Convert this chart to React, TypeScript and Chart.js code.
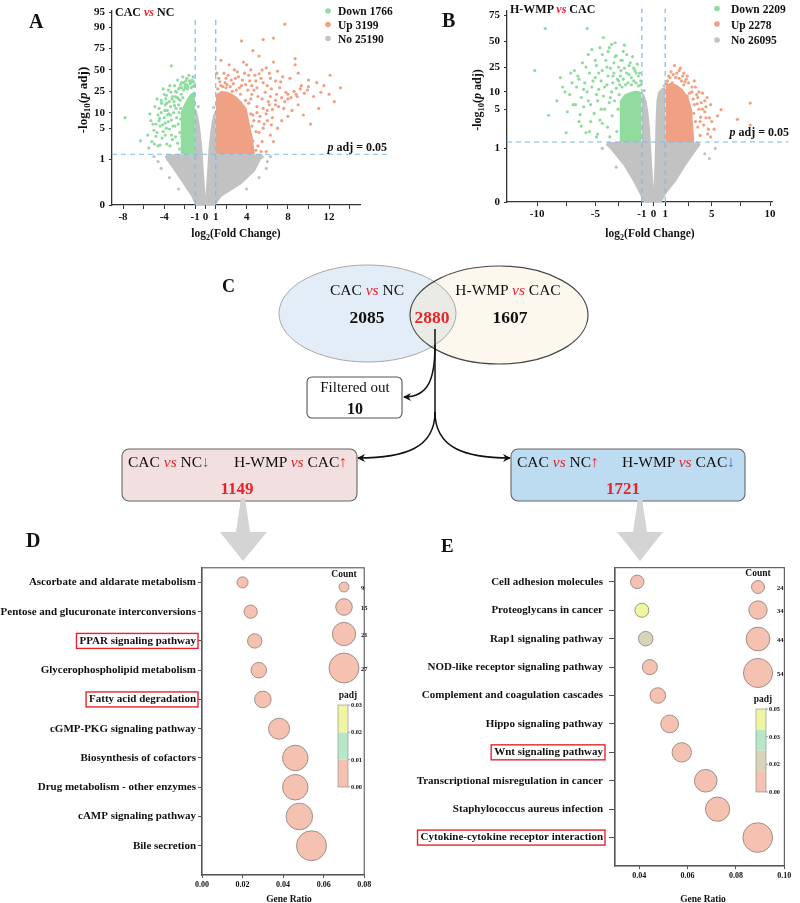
import React, { useEffect, useRef } from 'react';
import { Chart, registerables } from 'chart.js';

Chart.register(...registerables);

const SERIF = '"Liberation Serif", "Times New Roman", serif';
const RED = '#e8242a';
const BLUE_ARROW = '#3a6bd6';
const GREEN = '#8fdc9e';
const ORANGE = '#f0a083';
const GRAY = '#c2c2c2';
const DASH = '#7dbaea';
const SALMON = '#f5c1b0';
const MINT = '#b7e8c6';
const LEMON = '#eff5a0';
const KHAKI = '#d8d4b9';

type Pt = [number, number];

const PADJ_CUT = 0.05;
const FC_CUT = 1;

// ---------------- Panel A : CAC vs NC ----------------
const A_LEGEND = ['Down 1766', 'Up 3199', 'No 25190'];
const A_Y_TICKS = [0, 1, 5, 10, 25, 50, 75, 90, 95];
const A_Y_AXIS = [0, 47, 79, 95, 117, 139, 161, 183, 198];
const A_X_TICKS = [-8, -6, -4, -2, -1, 0, 1, 2, 4, 6, 8, 10, 12, 14];
const A_X_LABELED = [-8, -4, -1, 0, 1, 4, 8, 12];
const A_GRAY_UPPER: Pt[] = [[-3.95, 1.1], [-3.8, 1.3], [-1.02, 1.3], [-1.0, 12], [-0.9, 11.5], [-0.75, 9.5], [-0.6, 6.5], [-0.45, 3.8], [-0.3, 1.8], [-0.15, 0.7], [0, 0.2], [0.15, 0.7], [0.3, 1.8], [0.45, 3.8], [0.6, 6.5], [0.75, 9], [0.9, 10.5], [1.0, 11], [1.02, 1.3], [5.5, 1.3], [5.7, 1.1]];
const A_GRAY_LOWER: Pt[] = [[-3.95, 1.1], [-3.0, 0.74], [-2.17, 0.46], [-1.36, 0.18], [-1.05, 0.03], [-0.9, 0], [0.9, 0], [1.06, 0.03], [1.55, 0.18], [3.5, 0.46], [4.8, 0.74], [5.4, 1.0], [5.7, 1.1]];
const A_DOWN_CORE: Pt[] = [[-2.45, 1.3], [-2.4, 10], [-2.1, 14], [-1.8, 18], [-1.5, 22], [-1.2, 24], [-1.02, 25]];
const A_UP_CORE: Pt[] = [[1.02, 22], [1.5, 25], [2.0, 25], [2.5, 23], [3.0, 20], [3.5, 16], [4.0, 12], [4.3, 6], [4.6, 3], [4.8, 1.3]];
const A_DOWN_PTS: Pt[] = [[-7.8, 8], [-6.3, 2.6], [-5.3, 7], [-5.0, 4.5], [-4.9, 13], [-4.7, 18], [-4.6, 2], [-4.5, 7], [-4.4, 5.5], [-4.3, 10], [-4.2, 3], [-4.1, 27], [-4.0, 22], [-3.9, 14], [-3.8, 5], [-3.75, 2.2], [-3.7, 9], [-3.6, 26], [-3.5, 16], [-3.45, 30], [-3.4, 9], [-3.3, 3.5], [-3.2, 20], [-3.3, 54], [-3.0, 30], [-2.9, 25], [-2.8, 24], [-2.7, 36], [-2.6, 27], [-2.5, 28], [-2.4, 31], [-2.3, 33], [-2.2, 40], [-2.1, 26], [-2.0, 30], [-1.9, 35], [-1.8, 38], [-1.7, 29], [-1.6, 42], [-1.5, 32], [-1.4, 28], [-1.3, 36], [-1.2, 40], [-1.1, 30], [-3.9, 3.5], [-4.5, 12], [-5.2, 2.5], [-4.8, 6], [-3.85, 18], [-4.25, 15], [-4.4, 2.1], [-4.1, 4.2], [-3.9, 6.3], [-3.7, 11], [-3.5, 4.8], [-3.4, 13], [-3.3, 7.2], [-3.2, 2.8], [-3.1, 10], [-3.05, 16], [-2.95, 5.5], [-2.9, 3.2], [-2.85, 12], [-2.8, 8], [-2.75, 19], [-2.7, 2.3], [-2.65, 6], [-2.6, 14], [-2.55, 10], [-2.5, 4], [-2.45, 17], [-2.4, 7.5], [-2.35, 22], [-2.3, 3.3], [-4.8, 3.3], [-4.6, 9], [-4.3, 17], [-4.0, 8], [-3.8, 21], [-3.6, 6.7], [-3.45, 2], [-3.35, 24], [-3.15, 5.5], [-3.0, 13.5], [-2.9, 20], [-2.6, 18], [-2.5, 1.7], [-2.4, 12], [-2.3, 28], [-2.2, 19], [-2.1, 33], [-1.95, 28], [-1.85, 31], [-1.75, 27], [-1.55, 35], [-1.4, 33], [-1.25, 29], [-1.15, 34], [-5.6, 3.5], [-5.5, 1.8], [-5.4, 9.5], [-5.1, 6], [-4.95, 2.2], [-4.7, 4], [-4.45, 7.8], [-4.15, 5.8], [-3.95, 11], [-3.75, 15], [-3.55, 9.5], [-3.25, 18]];
const A_UP_PTS: Pt[] = [[7.7, 91], [6.6, 82], [5.6, 81], [3.5, 80], [4.6, 72], [5.2, 65], [8.7, 62], [8.7, 55], [4.0, 55], [5.5, 50], [6.2, 45], [7.0, 48], [7.5, 40], [12.1, 42], [10.8, 33], [13.1, 28], [12.0, 22], [9.9, 26], [9.3, 30], [8.8, 22], [10.5, 20], [11.2, 24], [8.0, 18], [7.2, 28], [6.8, 35], [6.0, 30], [5.4, 38], [4.8, 42], [4.3, 35], [3.8, 45], [3.2, 40], [2.8, 50], [2.5, 36], [2.2, 42], [1.9, 33], [1.5, 30], [1.3, 38], [3.5, 30], [4.5, 22], [5.0, 28], [5.5, 18], [6.3, 20], [7.6, 12], [8.4, 11], [9.5, 9], [10.2, 6], [7.4, 7], [6.5, 8], [6.0, 11], [5.7, 6], [5.2, 4], [4.9, 1.6], [5.5, 2.5], [6.3, 3.5], [4.6, 9], [5.0, 13], [4.2, 15], [3.9, 17], [6.8, 14], [9.0, 14], [11.0, 12], [12.5, 16], [5.9, 1.5], [6.6, 2.5], [7.0, 5], [8.0, 8.5], [3.0, 26], [2.0, 28], [1.6, 24], [4.1, 26], [3.4, 22], [2.6, 25], [4.4, 9.5], [4.7, 7], [5.0, 10], [5.3, 8.5], [5.6, 12], [5.9, 9.5], [6.2, 14], [6.5, 11.5], [6.8, 17], [7.1, 13], [7.4, 19], [7.7, 16], [8.0, 22], [8.3, 19], [8.6, 25], [8.9, 20], [9.2, 27], [9.6, 23], [10.0, 29], [4.5, 5.5], [4.9, 4.2], [5.2, 6.8], [5.6, 5], [6.0, 7], [6.4, 5.8], [4.2, 3.4], [4.6, 2.6], [5.1, 2], [5.4, 1.5], [6.1, 16], [6.9, 22], [7.8, 24], [4.4, 18], [4.7, 26], [5.1, 20], [5.8, 24], [6.4, 27], [1.2, 27], [1.4, 34], [1.7, 29], [1.8, 45], [2.1, 31], [2.3, 55], [2.4, 29], [2.7, 32], [2.9, 38], [3.1, 47], [3.3, 28], [3.6, 36], [3.7, 58], [3.9, 31], [4.2, 42], [4.4, 50], [4.5, 30], [4.9, 35], [5.2, 44], [5.6, 33], [5.9, 52], [6.3, 38], [6.6, 58], [7.3, 34], [8.2, 38], [9.0, 45], [10.0, 36], [11.5, 30], [1.1, 45], [1.5, 60], [2.0, 38]];
const A_NO_PTS: Pt[] = [[-4.6, 0.95], [-4.3, 0.8], [-5.0, 1.15], [-3.5, 0.6], [6.0, 0.95], [6.3, 1.15], [5.9, 0.8], [5.2, 0.6], [-0.7, 13], [0.8, 12.5], [4.0, 0.35], [-2.6, 0.35]];

// ---------------- Panel B : H-WMP vs CAC ----------------
const B_LEGEND = ['Down 2209', 'Up 2278', 'No 26095'];
const B_Y_TICKS = [0, 1, 5, 10, 25, 50, 75];
const B_Y_AXIS = [0, 56, 97, 115, 141, 168, 195];
const B_X_TICKS = [-10, -7.5, -5, -3, -1, 0, 1, 3, 5, 7.5, 10];
const B_X_LABELED = [-10, -5, -1, 0, 1, 5, 10];
const B_GRAY_UPPER: Pt[] = [[-4.1, 1.15], [-3.95, 1.3], [-1.02, 1.3], [-1.0, 10], [-0.8, 9], [-0.6, 7], [-0.45, 4.5], [-0.3, 2.2], [-0.15, 0.8], [0.0, 0.27], [0.1, 0.8], [0.17, 3], [0.25, 7], [0.4, 10], [0.7, 11.5], [1.0, 12], [1.02, 1.3], [3.9, 1.3], [4.05, 1.15]];
const B_GRAY_LOWER: Pt[] = [[-4.1, 1.15], [-3.76, 1.0], [-2.6, 0.69], [-1.77, 0.39], [-1.2, 0.155], [-0.97, 0.036], [-0.85, 0], [0.7, 0], [0.8, 0.036], [1.08, 0.155], [1.94, 0.39], [2.8, 0.69], [3.8, 1.0], [4.05, 1.15]];
const B_DOWN_CORE: Pt[] = [[-2.95, 1.3], [-2.9, 7], [-2.5, 9], [-2.0, 10], [-1.5, 10.5], [-1.02, 10]];
const B_UP_CORE: Pt[] = [[1.02, 13], [1.5, 14], [2.0, 13], [2.5, 11], [3.0, 8], [3.3, 5], [3.5, 1.3]];
const B_DOWN_PTS: Pt[] = [[-9.3, 61], [-5.7, 61], [-4.3, 53], [-10.2, 22], [-9.0, 3.9], [-7.5, 1.9], [-8.0, 17], [-7.8, 12], [-7.2, 9], [-7.0, 14], [-6.7, 6], [-6.5, 18], [-6.3, 4], [-6.0, 11], [-5.8, 25], [-5.6, 7], [-5.4, 3], [-5.2, 15], [-5.0, 30], [-4.9, 9], [-4.7, 20], [-4.5, 5], [-4.4, 35], [-4.2, 12], [-4.0, 25], [-3.8, 42], [-3.7, 8], [-3.5, 18], [-3.4, 28], [-3.2, 34], [-3.0, 15], [-2.8, 22], [-2.7, 30], [-2.5, 45], [-2.3, 20], [-2.1, 26], [-1.9, 17], [-1.7, 24], [-1.5, 20], [-1.3, 18], [-1.1, 15], [-5.5, 2], [-6.2, 2.5], [-4.8, 1.8], [-7.4, 4.5], [-8.3, 7], [-6.8, 22], [-5.3, 40], [-3.3, 48], [-2.6, 38], [-6.4, 3], [-6.2, 8], [-6.0, 5.5], [-5.9, 14], [-5.7, 10], [-5.5, 20], [-5.4, 6], [-5.3, 12], [-5.1, 4.2], [-5.0, 17], [-4.9, 26], [-4.8, 7], [-4.7, 11], [-4.6, 3.2], [-4.5, 15], [-4.4, 22], [-4.3, 8.5], [-4.2, 5], [-4.1, 30], [-4.0, 13], [-3.95, 2.4], [-3.9, 18], [-3.8, 6.5], [-3.7, 24], [-3.6, 10], [-3.55, 3.8], [-3.5, 14], [-3.4, 20], [-3.35, 7], [-3.3, 33], [-3.2, 11.5], [-3.15, 2], [-3.1, 16], [-3.05, 5], [-3.0, 25], [-2.95, 9], [-2.9, 13], [-2.85, 18], [-2.8, 30], [-2.7, 12], [-2.6, 16], [-2.5, 24], [-2.4, 13], [-2.3, 35], [-2.2, 14], [-2.1, 19], [-2.0, 28], [-1.9, 13], [-1.8, 33], [-1.7, 15], [-1.6, 22], [-1.5, 14], [-1.4, 27], [-1.3, 12.5], [-1.2, 20], [-1.1, 13], [-6.6, 12], [-6.9, 6], [-7.1, 20], [-7.6, 10], [-6.1, 28], [-5.6, 35], [-4.6, 42], [-3.9, 38], [-3.6, 46], [-4.9, 1.6], [-5.8, 1.9], [-4.4, 2.8], [-3.75, 1.6], [-6.4, 16]];
const B_UP_PTS: Pt[] = [[1.8, 26], [2.2, 22], [2.5, 18], [1.4, 17], [3.0, 14], [3.3, 10], [3.8, 8], [4.2, 5], [4.5, 3.5], [5.0, 3], [5.8, 4.9], [8.3, 6.4], [7.2, 3.3], [8.3, 2.6], [3.5, 6], [4.0, 3], [2.8, 16], [3.6, 12], [4.7, 2.2], [2.0, 20], [2.4, 15], [1.2, 15], [3.2, 4.5], [4.4, 7], [1.6, 14], [2.6, 13], [3.9, 10], [4.9, 1.6], [1.1, 13.5], [2.9, 8.5], [3.2, 2], [3.4, 7.5], [3.6, 3], [3.7, 9], [3.9, 5], [4.0, 1.7], [4.1, 6.5], [4.3, 2.6], [4.4, 4.5], [4.6, 8], [4.8, 3.5], [3.3, 12], [3.5, 15], [2.9, 18], [2.6, 20], [2.2, 16.5], [1.9, 17], [1.5, 21], [1.3, 18], [3.1, 9.5], [3.8, 2.4], [4.2, 9.5], [4.5, 5.5], [4.9, 6], [5.2, 2.2], [5.5, 3.8], [3.45, 4.2], [3.75, 6.2], [4.05, 3.6], [4.65, 1.8], [2.3, 24], [2.7, 14.5], [1.7, 19]];
const B_NO_PTS: Pt[] = [[4.8, 0.81], [5.3, 1.0], [-4.4, 1.0], [4.4, 0.9], [-3.2, 0.65], [0.9, 12.5], [-0.8, 10.5]];

// ---------------- Panel D ----------------
const D_PATHWAYS = ['Ascorbate and aldarate metabolism', 'Pentose and glucuronate interconversions', 'PPAR signaling pathway', 'Glycerophospholipid metabolism', 'Fatty acid degradation', 'cGMP-PKG signaling pathway', 'Biosynthesis of cofactors', 'Drug metabolism - other enzymes', 'cAMP signaling pathway', 'Bile secretion'];
const D_RATIO = [0.020, 0.024, 0.026, 0.028, 0.030, 0.038, 0.046, 0.046, 0.048, 0.054];
const D_COUNT = [10, 12, 13, 14, 15, 19, 23, 23, 24, 27];
const D_PADJ = [0.004, 0.003, 0.002, 0.002, 0.001, 0.001, 0.0005, 0.0008, 0.0006, 0.0002];
const D_HIGHLIGHT = ['PPAR signaling pathway', 'Fatty acid degradation'];
const D_COUNT_LEGEND = [9, 15, 21, 27];
const D_X_TICKS = [0, 0.02, 0.04, 0.06, 0.08];
const D_PADJ_BOUNDS = [0, 0.01, 0.02, 0.03];
const D_PADJ_COLORS = [SALMON, MINT, LEMON];
const D_BAR_TICKS = [0, 0.01, 0.02, 0.03];

// ---------------- Panel E ----------------
const E_PATHWAYS = ['Cell adhesion molecules', 'Proteoglycans in cancer', 'Rap1 signaling pathway', 'NOD-like receptor signaling pathway', 'Complement and coagulation cascades', 'Hippo signaling pathway', 'Wnt signaling pathway', 'Transcriptional misregulation in cancer', 'Staphylococcus aureus infection', 'Cytokine-cytokine receptor interaction'];
const E_RATIO = [0.0392, 0.0411, 0.0427, 0.0444, 0.0477, 0.0526, 0.0576, 0.0675, 0.0724, 0.089];
const E_COUNT = [25, 26, 27, 28, 29, 33, 36, 42, 45, 55];
const E_PADJ = [0.008, 0.045, 0.02, 0.006, 0.004, 0.003, 0.002, 0.001, 0.0005, 0.0001];
const E_HIGHLIGHT = ['Wnt signaling pathway', 'Cytokine-cytokine receptor interaction'];
const E_COUNT_LEGEND = [24, 34, 44, 54];
const E_X_TICKS = [0.04, 0.06, 0.08, 0.10];
const E_PADJ_BOUNDS = [0, 0.0125, 0.025, 0.0375, 0.05];
const E_PADJ_COLORS = [SALMON, KHAKI, MINT, LEMON];
const E_BAR_TICKS = [0, 0.05 / 3, 0.1 / 3, 0.05];

const D_K = 0.555;
const E_K = 0.27;

function colorFor(bounds: number[], colors: string[]) {
  return (p: number) => {
    for (let i = 0; i < colors.length; i++) if (p < bounds[i + 1]) return colors[i];
    return colors[colors.length - 1];
  };
}

function makeAxisMap(ticks: number[], pos: number[]) {
  const seg = (i: number, v: number) => {
    const a = ticks[i], b = ticks[i + 1];
    const t = a >= 1 ? (Math.log10(v) - Math.log10(a)) / (Math.log10(b) - Math.log10(a)) : (v - a) / (b - a);
    return pos[i] + t * (pos[i + 1] - pos[i]);
  };
  return (v: number) => {
    if (v <= ticks[0]) return pos[0];
    for (let i = 0; i < ticks.length - 1; i++) if (v <= ticks[i + 1]) return seg(i, v);
    return seg(ticks.length - 2, v);
  };
}

function volcanoConfig(v: any): any {
  const ym = makeAxisMap(v.yTicks, v.yPos);
  const thr = ym(-Math.log10(PADJ_CUT));
  const P = (pts: Pt[]) => pts.map(([x, y]) => ({ x, y: ym(y) }));
  const region = (pts: Pt[], color: string, fill: any, order: number) => ({
    type: 'line', data: P(pts), borderWidth: 0, borderColor: 'rgba(0,0,0,0)',
    backgroundColor: color, pointRadius: 0, fill, order, tension: 0,
  });
  const dots = (pts: Pt[], color: string, order: number) => ({
    type: 'scatter', data: P(pts), pointRadius: 1.6, pointBackgroundColor: color,
    backgroundColor: color, pointBorderWidth: 0, borderWidth: 0, order,
  });
  const dash = (data: any[]) => ({
    type: 'line', data, borderColor: DASH, borderWidth: 1.2, borderDash: [5, 4],
    pointRadius: 0, fill: false, clip: false, order: 0,
  });
  const font = { family: SERIF, weight: 'bold', size: 11 };
  return {
    type: 'scatter',
    data: {
      datasets: [
        region(v.grayUpper, GRAY, '+1', 9),
        region(v.grayLower, GRAY, false, 9),
        region(v.downCore, GREEN, { value: thr }, 7),
        region(v.upCore, ORANGE, { value: thr }, 7),
        dots(v.noPts, GRAY, 5),
        dots(v.downPts, GREEN, 4),
        dots(v.upPts, ORANGE, 4),
        dash([{ x: -FC_CUT, y: 0 }, { x: -FC_CUT, y: v.vTop }]),
        dash([{ x: FC_CUT, y: 0 }, { x: FC_CUT, y: v.vTop }]),
        dash([{ x: v.xMin, y: thr }, { x: v.hRight, y: thr }]),
      ],
    },
    options: {
      animation: false,
      responsive: false,
      layout: { padding: { top: v.padTop, right: v.padRight, left: 0, bottom: 0 } },
      plugins: { legend: { display: false }, tooltip: { enabled: false } },
      scales: {
        x: {
          type: 'linear', min: v.xMin, max: v.xMax,
          afterBuildTicks: (s: any) => { s.ticks = v.xTicks.map((t: number) => ({ value: t })); },
          afterFit: (s: any) => { s.height = 25; },
          ticks: { autoSkip: false, maxRotation: 0, padding: 2, color: '#111', font,
            callback: (val: number) => (v.xLabeled.includes(val) ? String(val) : '') },
          grid: { display: true, drawOnChartArea: false, drawTicks: true, tickLength: 4, color: '#333' },
          border: { display: true, color: '#333', width: 1.3 },
        },
        y: {
          type: 'linear', min: 0, max: 200,
          afterBuildTicks: (s: any) => { s.ticks = v.yTicks.map((t: number) => ({ value: ym(t) })); },
          afterFit: (s: any) => { s.width = 40; },
          ticks: { autoSkip: false, padding: 4, color: '#111', font,
            callback: (_val: number, i: number) => String(v.yTicks[i]) },
          grid: { display: true, drawOnChartArea: false, drawTicks: true, tickLength: 3, color: '#333' },
          border: { display: true, color: '#333', width: 1.3 },
        },
      },
    },
  };
}

function bubbleConfig(b: any): any {
  const font = { family: SERIF, weight: 'bold', size: 11 };
  const labelFont = `bold 11px ${SERIF}`;
  const frame = {
    id: 'frame',
    afterDatasetsDraw(chart: any) {
      const { ctx, chartArea: a } = chart;
      ctx.save();
      ctx.strokeStyle = '#555';
      ctx.lineWidth = 1.1;
      ctx.strokeRect(a.left, a.top, a.right - a.left, a.bottom - a.top);
      ctx.restore();
    },
  };
  const highlight = {
    id: 'hl',
    afterDraw(chart: any) {
      const ys = chart.scales.y;
      const ctx = chart.ctx;
      ctx.save();
      ctx.font = labelFont;
      ctx.strokeStyle = RED;
      ctx.lineWidth = 1.4;
      b.highlight.forEach((name: string) => {
        const i = b.labels.indexOf(name);
        const y = ys.getPixelForValue(i);
        const w = ctx.measureText(name).width;
        const right = chart.chartArea.left - b.yTickLen - b.yPad;
        ctx.strokeRect(right - w - 3, y - 7.5, w + 5, 15);
      });
      ctx.restore();
    },
  };
  return {
    type: 'bubble',
    data: {
      datasets: [{
        data: b.labels.map((_: string, i: number) => ({ x: b.ratio[i], y: i, r: b.count[i] * b.k })),
        backgroundColor: b.padj.map(b.colorOf),
        borderColor: '#8d7d78',
        borderWidth: 0.8,
      }],
    },
    options: {
      animation: false,
      responsive: false,
      layout: { padding: { top: b.padTop, right: b.padRight, left: 0, bottom: 0 } },
      plugins: { legend: { display: false }, tooltip: { enabled: false } },
      scales: {
        x: {
          type: 'linear', min: b.xMin, max: b.xMax,
          afterBuildTicks: (s: any) => { s.ticks = b.xTicks.map((t: number) => ({ value: t })); },
          afterFit: (s: any) => { s.height = 20; },
          ticks: { autoSkip: false, maxRotation: 0, padding: 2, color: '#111',
            font: { family: SERIF, weight: 'bold', size: 8 },
            callback: (val: number) => Number(val).toFixed(2) },
          grid: { display: true, drawOnChartArea: false, tickLength: 3, color: '#555' },
          border: { display: true, color: '#555', width: 1.1 },
        },
        y: {
          type: 'linear', reverse: true, min: -0.5, max: 10,
          afterBuildTicks: (s: any) => { s.ticks = b.labels.map((_: string, i: number) => ({ value: i })); },
          afterFit: (s: any) => { s.width = b.yWidth; },
          ticks: { autoSkip: false, padding: b.yPad, color: '#111', font,
            callback: (val: number) => b.labels[val] },
          grid: { display: true, drawOnChartArea: false, tickLength: b.yTickLen, color: '#555' },
          border: { display: true, color: '#555', width: 1.1 },
        },
      },
    },
    plugins: [frame, highlight],
  };
}

function ChartCanvas({ make, left, top, width, height }: any) {
  const ref = useRef<HTMLCanvasElement>(null);
  useEffect(() => {
    if (!ref.current) return;
    const chart = new Chart(ref.current, make());
    return () => chart.destroy();
  }, []);
  return (
    <canvas ref={ref} width={width} height={height}
      style={{ position: 'absolute', left, top, width, height }} />
  );
}

function Vs({ size }: any) {
  return <tspan fill={RED} fontStyle="italic" fontSize={size}>vs</tspan>;
}

function Overlay() {
  const dLegY = [587, 607, 634, 668];
  const eLegY = [587, 610, 639, 673];
  const dBar = { x: 338, top: 705, bottom: 787 };
  const eBar = { x: 756, top: 709, bottom: 792 };
  const bar = (cfg: any, bounds: number[], colors: string[], ticks: number[]) => {
    const max = bounds[bounds.length - 1];
    const h = cfg.bottom - cfg.top;
    const py = (v: number) => cfg.bottom - (v / max) * h;
    return (
      <g>
        {colors.map((c, i) => (
          <rect key={i} x={cfg.x} y={py(bounds[i + 1])} width={10} height={py(bounds[i]) - py(bounds[i + 1])} fill={c} />
        ))}
        <rect x={cfg.x} y={cfg.top} width={10} height={h} fill="none" stroke="#888" strokeWidth={0.6} />
        {ticks.map((t, i) => (
          <g key={i}>
            <line x1={cfg.x + 10} x2={cfg.x + 12} y1={py(t)} y2={py(t)} stroke="#666" strokeWidth={0.6} />
            <text x={cfg.x + 13} y={py(t) + 2} fontSize={6.3} fontWeight="bold">{t.toFixed(2)}</text>
          </g>
        ))}
      </g>
    );
  };
  const legendColors = [GREEN, ORANGE, GRAY];
  return (
    <svg width={800} height={903} fontFamily={SERIF} fill="#111"
      style={{ position: 'absolute', left: 0, top: 0, pointerEvents: 'none' }}>
      <defs>
        <clipPath id="vennLeft"><ellipse cx={367.5} cy={313.5} rx={88.5} ry={48.5} /></clipPath>
        <marker id="arr" markerWidth={8} markerHeight={8} refX={7} refY={4} orient="auto" markerUnits="userSpaceOnUse">
          <path d="M0,0 L8,4 L0,8 L2.5,4 Z" fill="#111" />
        </marker>
      </defs>

      <text x={29} y={28} fontSize={20} fontWeight="bold">A</text>
      <text x={442} y={27} fontSize={20} fontWeight="bold">B</text>
      <text x={222} y={292} fontSize={18} fontWeight="bold">C</text>
      <text x={26} y={547} fontSize={20} fontWeight="bold">D</text>
      <text x={441} y={552} fontSize={19} fontWeight="bold">E</text>

      <text x={115} y={15.5} fontSize={12} fontWeight="bold">{'CAC '}<Vs />{' NC'}</text>
      {A_LEGEND.map((s, i) => (
        <g key={s}>
          <circle cx={328} cy={[11, 24.5, 38.5][i]} r={2.8} fill={legendColors[i]} />
          <text x={338} y={[15, 28.5, 42.5][i]} fontSize={11.5} fontWeight="bold">{s}</text>
        </g>
      ))}
      <text x={387} y={151} fontSize={12} fontWeight="bold" textAnchor="end"><tspan fontStyle="italic">p</tspan>{' adj = 0.05'}</text>
      <text transform="translate(87,100) rotate(-90)" textAnchor="middle" fontSize={13} fontWeight="bold">
        -log<tspan dy={3} fontSize={9}>10</tspan><tspan dy={-3}>(</tspan><tspan fontStyle="italic">p</tspan>{' adj)'}
      </text>
      <text x={236} y={237} textAnchor="middle" fontSize={11.5} fontWeight="bold">
        log<tspan dy={3} fontSize={8}>2</tspan><tspan dy={-3}>(Fold Change)</tspan>
      </text>

      <text x={510} y={12.5} fontSize={12} fontWeight="bold">{'H-WMP '}<Vs />{' CAC'}</text>
      {B_LEGEND.map((s, i) => (
        <g key={s}>
          <circle cx={717} cy={[8.5, 24, 40][i]} r={2.8} fill={legendColors[i]} />
          <text x={731} y={[13, 28.5, 44][i]} fontSize={11.5} fontWeight="bold">{s}</text>
        </g>
      ))}
      <text x={789} y={136} fontSize={12} fontWeight="bold" textAnchor="end"><tspan fontStyle="italic">p</tspan>{' adj = 0.05'}</text>
      <text transform="translate(481,100) rotate(-90)" textAnchor="middle" fontSize={12} fontWeight="bold">
        -log<tspan dy={3} fontSize={8.5}>10</tspan><tspan dy={-3}>(</tspan><tspan fontStyle="italic">p</tspan>{' adj)'}
      </text>
      <text x={650} y={237} textAnchor="middle" fontSize={11.5} fontWeight="bold">
        log<tspan dy={3} fontSize={8}>2</tspan><tspan dy={-3}>(Fold Change)</tspan>
      </text>

      <ellipse cx={367.5} cy={313.5} rx={88.5} ry={48.5} fill="#e3edf8" />
      <ellipse cx={499} cy={315} rx={89} ry={49} fill="#fdf8ee" />
      <ellipse cx={499} cy={315} rx={89} ry={49} fill="#ebebe5" clipPath="url(#vennLeft)" />
      <ellipse cx={367.5} cy={313.5} rx={88.5} ry={48.5} fill="none" stroke="#a8a8a8" strokeWidth={1} />
      <ellipse cx={499} cy={315} rx={89} ry={49} fill="none" stroke="#4a4a4a" strokeWidth={1.2} />
      <text x={367} y={295} textAnchor="middle" fontSize={15.5}>{'CAC '}<Vs />{' NC'}</text>
      <text x={508} y={295} textAnchor="middle" fontSize={15.5}>{'H-WMP '}<Vs />{' CAC'}</text>
      <text x={367} y={323} textAnchor="middle" fontSize={17.5} fontWeight="bold">2085</text>
      <text x={432} y={323} textAnchor="middle" fontSize={17.5} fontWeight="bold" fill={RED}>2880</text>
      <text x={510} y={323} textAnchor="middle" fontSize={17.5} fontWeight="bold">1607</text>

      <g fill="none" stroke="#111" strokeWidth={1.5}>
        <path d="M435,329 L435,416" />
        <path d="M435,412 C435,448 405,458 358,458" markerEnd="url(#arr)" />
        <path d="M435,412 C435,448 465,458 510,458" markerEnd="url(#arr)" />
        <path d="M435,345 C435,380 428,397 404,397" markerEnd="url(#arr)" />
      </g>
      <rect x={307} y={377} width={95} height={41} rx={5} fill="#fff" stroke="#555" strokeWidth={1.1} />
      <text x={355} y={392} textAnchor="middle" fontSize={15}>Filtered out</text>
      <text x={355} y={414} textAnchor="middle" fontSize={16} fontWeight="bold">10</text>

      <rect x={122} y={449} width={235} height={52} rx={7} fill="#f2dfdf" stroke="#666" strokeWidth={1.1} />
      <text x={128} y={467} fontSize={15.5}>{'CAC '}<Vs />{' NC'}<tspan fill={BLUE_ARROW}>↓</tspan></text>
      <text x={234} y={467} fontSize={15.5}>{'H-WMP '}<Vs />{' CAC'}<tspan fill={RED}>↑</tspan></text>
      <text x={237} y={494} textAnchor="middle" fontSize={17} fontWeight="bold" fill={RED}>1149</text>

      <rect x={511} y={449} width={234} height={52} rx={7} fill="#bddcf2" stroke="#666" strokeWidth={1.1} />
      <text x={517} y={467} fontSize={15.5}>{'CAC '}<Vs />{' NC'}<tspan fill={RED}>↑</tspan></text>
      <text x={622} y={467} fontSize={15.5}>{'H-WMP '}<Vs />{' CAC'}<tspan fill={BLUE_ARROW}>↓</tspan></text>
      <text x={623} y={494} textAnchor="middle" fontSize={17} fontWeight="bold" fill={RED}>1721</text>

      <g fill="#d4d4d4">
        <polygon points="241,498 245,498 250,532 236,532" />
        <polygon points="220,532 267,532 243,561" />
        <polygon points="638,498 642,498 647,532 633,532" />
        <polygon points="617,532 663,532 640,561" />
      </g>

      <text x={344} y={577} textAnchor="middle" fontSize={9.5} fontWeight="bold">Count</text>
      {D_COUNT_LEGEND.map((c, i) => (
        <g key={c}>
          <circle cx={344} cy={dLegY[i]} r={c * D_K} fill={SALMON} stroke="#8d7d78" strokeWidth={0.8} />
          <text x={361} y={dLegY[i] + 2.5} fontSize={6.5} fontWeight="bold">{c}</text>
        </g>
      ))}
      <text x={348} y={698} textAnchor="middle" fontSize={9.5} fontWeight="bold">padj</text>
      {bar(dBar, D_PADJ_BOUNDS, D_PADJ_COLORS, D_BAR_TICKS)}
      <text x={289} y={902} textAnchor="middle" fontSize={9.5} fontWeight="bold">Gene Ratio</text>

      <text x={758} y={576} textAnchor="middle" fontSize={9.5} fontWeight="bold">Count</text>
      {E_COUNT_LEGEND.map((c, i) => (
        <g key={c}>
          <circle cx={758} cy={eLegY[i]} r={c * E_K} fill={SALMON} stroke="#8d7d78" strokeWidth={0.8} />
          <text x={777} y={eLegY[i] + 2.5} fontSize={6.5} fontWeight="bold">{c}</text>
        </g>
      ))}
      <text x={763} y={702} textAnchor="middle" fontSize={9.5} fontWeight="bold">padj</text>
      {bar(eBar, E_PADJ_BOUNDS, E_PADJ_COLORS, E_BAR_TICKS)}
      <text x={703} y={902} textAnchor="middle" fontSize={9.5} fontWeight="bold">Gene Ratio</text>
    </svg>
  );
}

const makeA = () => volcanoConfig({
  yTicks: A_Y_TICKS, yPos: A_Y_AXIS, xTicks: A_X_TICKS, xLabeled: A_X_LABELED,
  xMin: -9.07, xMax: 15, vTop: 194, hRight: 17.7, padTop: 5, padRight: 40,
  grayUpper: A_GRAY_UPPER, grayLower: A_GRAY_LOWER, downCore: A_DOWN_CORE, upCore: A_UP_CORE,
  downPts: A_DOWN_PTS, upPts: A_UP_PTS, noPts: A_NO_PTS,
});

const makeB = () => volcanoConfig({
  yTicks: B_Y_TICKS, yPos: B_Y_AXIS, xTicks: B_X_TICKS, xLabeled: B_X_LABELED,
  xMin: -12.58, xMax: 10.17, vTop: 202, hRight: 11.6, padTop: 2, padRight: 28,
  grayUpper: B_GRAY_UPPER, grayLower: B_GRAY_LOWER, downCore: B_DOWN_CORE, upCore: B_UP_CORE,
  downPts: B_DOWN_PTS, upPts: B_UP_PTS, noPts: B_NO_PTS,
});

const makeD = () => bubbleConfig({
  labels: D_PATHWAYS, ratio: D_RATIO, count: D_COUNT, padj: D_PADJ, k: D_K,
  colorOf: colorFor(D_PADJ_BOUNDS, D_PADJ_COLORS), highlight: D_HIGHLIGHT,
  xMin: 0, xMax: 0.08, xTicks: D_X_TICKS, yWidth: 202, yTickLen: 4, yPad: 2,
  padTop: 10, padRight: 3,
});

const makeE = () => bubbleConfig({
  labels: E_PATHWAYS, ratio: E_RATIO, count: E_COUNT, padj: E_PADJ, k: E_K,
  colorOf: colorFor(E_PADJ_BOUNDS, E_PADJ_COLORS), highlight: E_HIGHLIGHT,
  xMin: 0.03, xMax: 0.10, xTicks: E_X_TICKS, yWidth: 215, yTickLen: 6, yPad: 6,
  padTop: 10, padRight: 8,
});

export default function App() {
  return (
    <div style={{ position: 'absolute', left: 0, top: 0, width: 800, height: 903, background: '#fff', overflow: 'hidden' }}>
      <ChartCanvas make={makeA} left={72} top={0} width={328} height={230} />
      <ChartCanvas make={makeB} left={467} top={0} width={333} height={227} />
      <ChartCanvas make={makeD} left={0} top={552} width={380} height={343} />
      <ChartCanvas make={makeE} left={400} top={552} width={400} height={334} />
      <Overlay />
    </div>
  );
}
